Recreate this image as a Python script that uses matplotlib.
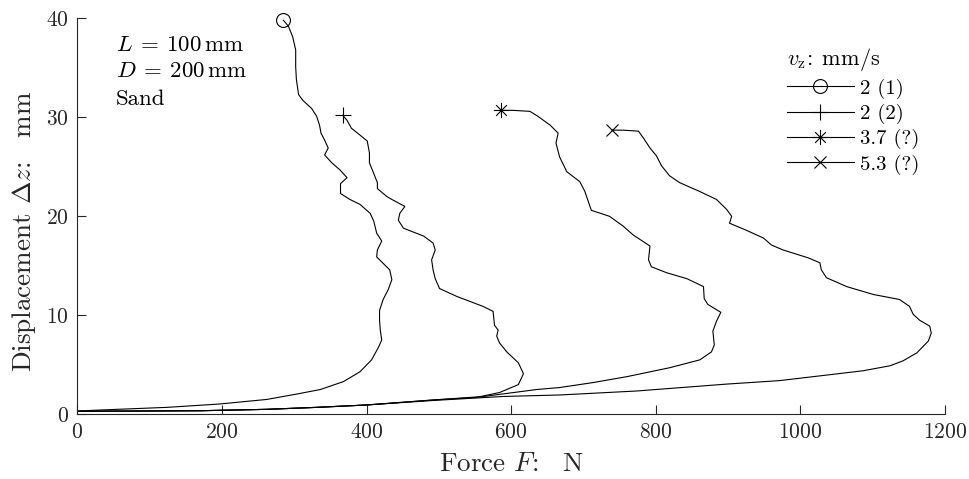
import matplotlib
matplotlib.use('Agg')
import matplotlib.pyplot as plt
from matplotlib.lines import Line2D
from matplotlib.path import Path

plt.rcParams['font.family'] = 'serif'
plt.rcParams['font.serif'] = ['cmr10']
plt.rcParams['mathtext.fontset'] = 'cm'
plt.rcParams['axes.formatter.use_mathtext'] = True

# 力-位移曲線 (F: N, dz: mm)，由下往上，最後一點為標記點
F1 = [0, 31, 124, 197, 262, 304, 336, 368, 391, 407, 416, 421, 419, 418, 418, 423, 430, 435,
      432, 425, 414, 415, 421, 414, 410, 405, 391, 377, 364, 364, 373, 363, 352, 342, 347, 342,
      337, 335, 331, 324, 312, 306, 305, 303, 302, 302, 298, 292, 285]
Z1 = [0.33, 0.43, 0.7, 1.04, 1.5, 2.05, 2.5, 3.3, 4.3, 5.5, 6.7, 7.5, 8.5, 9.5, 10.5, 11.6, 12.6, 13.6,
      14.6, 15.1, 15.9, 16.6, 17.5, 18.3, 19.5, 20.3, 21.2, 21.7, 22.3, 23.3, 23.9, 24.7, 25.4, 26.2, 26.9, 27.7,
      28.4, 29.2, 30.1, 30.9, 31.7, 32.3, 32.8, 33.8, 35.1, 36.8, 38.1, 39.2, 39.8]

F2 = [0, 170, 262, 331, 400, 493, 552, 584, 610, 617, 610, 594, 584, 580, 582, 577, 575, 561, 543,
      525, 501, 495, 492, 490, 495, 492, 479, 451, 444, 446, 453, 435, 428, 415, 415, 409, 404, 404,
      401, 391, 379, 373, 367]
Z2 = [0.3, 0.36, 0.5, 0.7, 0.94, 1.45, 1.7, 2.2, 3.0, 4.1, 5.2, 6.3, 7.2, 7.9, 8.5, 9.0, 10.4, 10.9, 11.4,
      11.9, 12.7, 13.7, 14.6, 15.6, 16.6, 17.3, 18.0, 18.8, 19.6, 20.3, 21.0, 21.7, 22.0, 22.8, 23.4, 24.5, 25.4, 26.4,
      27.6, 28.2, 28.9, 29.7, 30.2]

F3 = [0, 170, 262, 331, 400, 493, 562, 635, 667, 713, 760, 819, 861, 877, 881, 879, 884, 890, 872,
      867, 866, 843, 815, 794, 790, 792, 769, 755, 736, 711, 709, 702, 695, 677, 667, 662, 665, 654,
      637, 626, 603, 586]
Z3 = [0.3, 0.36, 0.5, 0.7, 0.94, 1.45, 1.8, 2.5, 2.7, 3.2, 3.8, 4.7, 5.5, 6.3, 7.0, 8.4, 9.4, 10.3, 11.1,
      11.7, 12.9, 13.7, 14.3, 14.9, 15.6, 17.0, 18.1, 19.0, 20.0, 20.6, 21.0, 22.5, 23.5, 24.5, 26.0, 27.4, 28.4, 29.2,
      30.1, 30.6, 30.7, 30.7]

F4 = [0, 170, 262, 331, 400, 493, 589, 667, 773, 898, 971, 1041, 1087, 1124, 1142, 1161, 1177, 1181,
      1179, 1165, 1156, 1151, 1137, 1101, 1064, 1036, 1029, 1027, 1011, 976, 960, 949, 925, 902, 905,
      898, 884, 861, 833, 819, 808, 801, 792, 783, 776, 755, 740]
Z4 = [0.3, 0.36, 0.5, 0.7, 0.94, 1.4, 1.8, 1.95, 2.35, 3.05, 3.4, 4.0, 4.4, 4.9, 5.4, 6.2, 7.4, 8.2,
      8.9, 9.5, 10.1, 10.9, 11.6, 12.1, 12.9, 13.8, 14.6, 15.3, 15.8, 16.6, 17.1, 17.8, 18.6, 19.3, 20.0,
      20.7, 21.7, 22.5, 23.4, 24.1, 25.1, 26.1, 26.9, 27.9, 28.6, 28.7, 28.7]

labels = ['2 (1)', '2 (2)', '3.7 (?)', '5.3 (?)']

# MATLAB 風格的星號標記
star = Path([(0, -1), (0, 1), (-1, 0), (1, 0), (-0.7, -0.7), (0.7, 0.7), (-0.7, 0.7), (0.7, -0.7)],
            [Path.MOVETO, Path.LINETO] * 4)
markers = ['o', '+', star, 'x']
msizes = [10, 11, 11, 8]

gray = '#262626'

fig = plt.figure(figsize=(9.69, 4.79), dpi=100)
ax = fig.add_axes([0.0798, 0.1351, 0.8954, 0.8267])

handles = []
for F, Z, m, ms, lab in zip([F1, F2, F3, F4], [Z1, Z2, Z3, Z4], markers, msizes, labels):
    ax.plot(F, Z, color='k', lw=0.8)
    ax.plot(F[-1], Z[-1], linestyle='none', marker=m, ms=ms, mfc='none', mec='k', mew=0.8, clip_on=False)
    handles.append(Line2D([], [], color='k', lw=0.8, marker=m, ms=ms, mfc='none', mec='k', mew=0.8))

ax.set_xlim(0, 1200)
ax.set_ylim(0, 40)
ax.set_xticks([0, 200, 400, 600, 800, 1000, 1200])
ax.set_yticks([0, 10, 20, 30, 40])
ax.spines['top'].set_visible(False)
ax.spines['right'].set_visible(False)
for s in ['left', 'bottom']:
    ax.spines[s].set_color(gray)
    ax.spines[s].set_linewidth(0.8)
ax.tick_params(direction='in', length=6.5, width=0.8, colors=gray, labelsize=15.5, pad=6)

ax.set_xlabel(r'Force $F$:$\quad$N', fontsize=19.5, color=gray, labelpad=7)
ax.set_ylabel(r'Displacement $\Delta z$:$\quad$mm', fontsize=19.5, color=gray)
ax.yaxis.set_label_coords(-0.045, 0.461)

ax.text(0.044, 0.917, r'$L\:=\:100\,\mathrm{mm}$', transform=ax.transAxes, fontsize=16.5, va='baseline')
ax.text(0.044, 0.851, r'$D\:=\:200\,\mathrm{mm}$', transform=ax.transAxes, fontsize=16.5, va='baseline')
ax.text(0.044, 0.780, 'Sand', transform=ax.transAxes, fontsize=16.5, va='baseline')

leg = ax.legend(handles, labels, title=r'$v_\mathrm{z}$:$\enspace$mm/s', loc='upper right',
                bbox_to_anchor=(0.98, 0.95), frameon=False, fontsize=15, title_fontsize=16,
                handlelength=3.2, handletextpad=0.3, labelspacing=0.25, borderaxespad=0,
                alignment='left')

fig.savefig('out.png', dpi=100)
